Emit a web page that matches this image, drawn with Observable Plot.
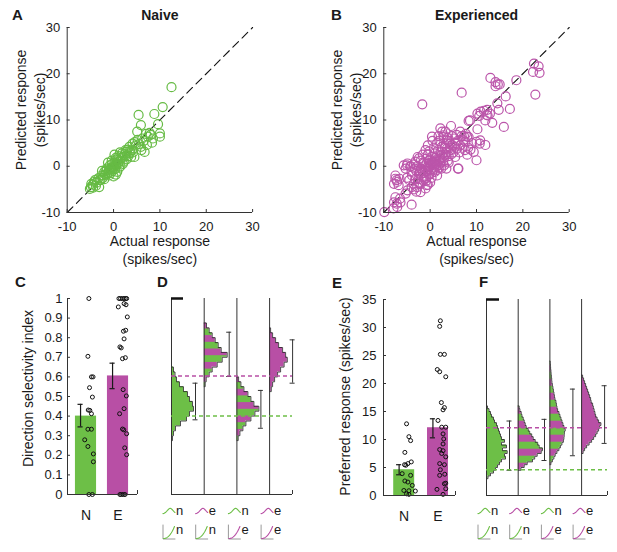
<!DOCTYPE html>
<html><head><meta charset="utf-8">
<script src="https://cdn.jsdelivr.net/npm/d3@7"></script>
<script src="https://cdn.jsdelivr.net/npm/@observablehq/plot@0.6"></script>
<style>
html,body{margin:0;padding:0;background:#fff;}
#root{position:relative;width:617px;height:552px;overflow:hidden;background:#fff;font-family:'Liberation Sans',Arial,Helvetica,sans-serif;color:#1a1a1a;}
.lbl{position:absolute;font-weight:bold;font-size:15px;line-height:18px;}
</style></head><body>
<svg width="0" height="0" style="position:absolute">
<defs>
<pattern id="stripesD" patternUnits="userSpaceOnUse" x="0" y="11.5" width="40" height="13.4">
<rect x="0" y="0" width="40" height="6.7" fill="#b84fa5"/><rect x="0" y="6.7" width="40" height="6.7" fill="#6dbf47"/></pattern>
<pattern id="stripesF" patternUnits="userSpaceOnUse" x="0" y="10.7" width="40" height="14">
<rect x="0" y="0" width="40" height="7" fill="#b84fa5"/><rect x="0" y="7" width="40" height="7" fill="#6dbf47"/></pattern>
</defs></svg>
<div id="root"></div>
<script>
// ---------- colours ----------
const GREEN = "#6dbf47", PINK = "#b84fa5", INK = "#1a1a1a", AXIS = "#333";
const FONT = "'Liberation Sans', Arial, Helvetica, sans-serif";

// ---------- A / B : predicted vs actual ----------
const axisRange = [-10, 30];
const axisTicks = [-10, 0, 10, 20, 30];
const naive = [
[12.5,17.1],[10.6,12.8],[8.8,11.3],[5.4,11.1],[9.6,9.1],[5.9,8.9],[10.0,7.1],[10.0,6.4],[7.8,7.2],[7.4,6.4],
[8.3,5.1],[7.2,4.6],[6.7,3.1],[4.5,2.0],[5.2,5.7],[5.1,7.5],[5.9,4.2],[6.5,5.5],[4.1,4.9],[3.4,4.2],
[2.7,3.1],[8.0,6.8],[7.0,7.0],[6.2,6.0],[4.8,4.5],[4.0,3.5],[3.5,2.8],[3.0,3.6],[2.5,2.2],[2.0,2.0],
[1.8,2.8],[1.5,1.2],[0.9,1.3],[1.0,0.5],[0.5,1.8],[0.2,0.8],[0.0,0.0],[-0.3,0.5],[-0.5,-0.3],[-0.8,0.2],
[-1.0,-0.8],[-1.3,-1.5],[-0.2,-1.0],[0.3,-0.6],[0.6,0.2],[-1.5,-0.5],[-1.8,-1.8],[-2.0,-1.2],[-2.3,-2.5],[-2.6,-2.0],
[-3.0,-3.0],[-3.1,-4.5],[-3.3,-2.6],[-3.6,-3.5],[-4.0,-3.0],[-4.2,-3.4],[-4.5,-4.0],[-4.9,-4.5],[-5.1,-4.9],[-4.4,-4.6],
[-2.8,-3.0],[-2.0,-2.8],[-1.0,-2.0],[0.5,-1.8],[1.2,-0.3],[1.5,0.0],[2.2,1.0],[2.8,1.5],[3.2,2.2],[2.0,0.5],
[-0.6,-1.5],[0.8,-1.2],[1.0,2.2],[-1.2,0.8],[0.2,2.5],[1.4,3.0],[-0.4,1.2],[-2.5,-1.0],[0.0,-2.2],[1.7,1.8],
[2.4,2.6],[3.8,2.0],[4.2,3.0],[-0.7,-0.6],[0.4,0.3],[-0.1,-0.4],[1.1,1.0],[-1.6,-1.0],[-3.8,-4.2],[-4.8,-3.8],
[-2.2,-2.0],[-0.9,-1.2],[0.7,1.5],[2.6,3.5],[3.6,3.2],[5.5,4.8],[4.6,5.2],[6.0,3.5],[8.5,6.0]
];
const experienced = [
[-9.9,-9.9],[-7.9,-9.1],[-7.2,-8.1],[-6.5,-7.0],[-4.0,-8.3],[-7.5,-6.7],[-7.8,-7.8],[-7.1,-8.8],[-6.4,-7.8],[-5.3,-5.9],[-4.9,-5.2],
[-7.5,-2.7],[-7.1,-3.4],[-7.8,-3.8],[-6.8,-4.1],[-7.5,-2.0],[-6.6,-2.7],[-7.2,-3.0],
[-5.7,0.2],[-4.9,0.6],[-4.2,0.0],[-3.5,0.4],[-2.8,0.0],[-5.3,-0.5],[-5.0,0.2],[-4.3,-0.1],[-2.4,1.7],[-2.7,2.0],
[-3.9,-2.0],[-3.2,-2.7],[-2.4,-1.6],[-1.7,-0.9],[-3.5,-3.8],[-2.8,-4.5],[-2.1,-3.8],[-1.4,-3.0],[-1.0,-4.8],[-2.1,-5.6],[-0.7,-4.1],
[-1.7,13.4],[0.4,6.4],[6.8,15.9],
[13.0,19.1],[14.1,18.2],[14.6,17.7],[14.1,17.3],[15.0,17.7],[18.6,18.6],[22.4,22.2],[23.4,21.6],[23.6,20.2],[22.2,20.4],[22.7,15.5],
[17.2,12.4],[14.8,12.2],[14.5,13.6],[15.9,8.5],[13.4,9.4],[16.3,15.1],
[10.9,11.8],[11.6,12.0],[12.3,12.2],[10.2,11.4],[10.6,10.9],[12.2,11.1],[12.9,11.4],[11.9,9.9],[12.4,11.0],[8.6,9.9],
[8.3,9.8],[10.2,8.0],[10.0,5.3],[10.7,4.9],[11.9,4.6],[10.0,1.3],[8.2,4.0],[9.4,3.1],[8.3,6.3],[7.2,5.6],[10.8,5.6],
[4.5,8.7],[2.2,8.2],[2.6,7.5],[2.9,6.7],[3.7,6.2],[2.9,6.3],[3.6,5.6],[4.3,4.9],
[6.5,7.5],[7.3,6.5],[8.0,6.4],[7.6,5.3],[6.0,-0.5],[5.8,3.8],[5.4,2.0],[6.1,-0.5],
[-1.0,-1.0],[-0.5,-0.5],[0,0],[0.5,0.3],[1.0,1.0],[-0.8,0.5],[0.2,-0.8],[-0.3,1.2],[0.8,-0.3],[1.5,0.5],
[-1.5,-1.5],[-0.2,-1.8],[1.2,1.8],[0.5,2.0],[-1.2,0.0],[2.0,1.5],[1.8,0.2],[2.5,2.5],[3.0,1.8],[2.2,3.0],
[3.5,3.0],[4.0,2.2],[4.5,3.5],[3.2,4.0],[2.8,1.0],[0.0,1.5],[-0.5,2.5],[1.0,2.8],[1.7,3.5],[2.5,4.2],
[4.8,4.5],[5.5,5.0],[5.0,3.0],[6.5,4.5],[6.0,5.5],[7.0,4.0],[4.0,5.5],[5.2,6.0],[3.0,5.0],[0.3,-2.5],
[-0.8,-2.5],[1.0,-1.2],[1.5,-0.8],[2.0,-0.3],[-1.8,-2.2],[-2.5,-2.8],[-3.0,-1.0],[-2.0,-0.5],[-1.5,0.8],[-0.5,0.0],
[0.5,1.0],[1.3,0.0],[2.3,0.8],[3.3,2.5],[3.8,1.2],[4.2,4.0],[0.8,4.0],[1.5,5.0],[2.0,5.5],[-1.0,3.5],
[-0.2,3.2],[0.0,-3.5],[-0.5,-4.0],[1.5,-2.0],[-3.5,-5.0],[-4.0,-4.5],[-3.0,-5.5],[-4.5,-3.0],[-4.0,-1.2],[-3.3,-0.5],
[-5.0,-2.5],[-2.5,-3.5],[-1.2,-2.8],[0.7,0.7],[-0.3,-0.2],[0.2,0.5],[1.1,0.4],[-0.6,-1.1],[2.7,2.0],[3.6,3.8],
[4.6,2.6],[5.4,4.2],[6.3,3.0],[6.8,6.5],[7.5,3.5],[8.0,2.5],[8.7,3.6],[9.0,5.0],[7.7,7.0],[5.7,6.8],
[4.7,6.5],[3.3,7.5],[1.8,6.5],[0.5,5.5],[-0.5,4.5],[2.0,2.2],[1.2,1.3],[-0.1,0.7],[0.9,-0.7],[2.4,-0.5],
[3.0,0.2],[4.0,0.8],[3.5,-0.5],[-2.0,1.2],[-1.6,2.5],[-3.2,1.0],[-2.2,-1.2],[-0.9,-3.2],[0.4,-1.4]
];

// ---------- C : direction selectivity ----------
const groups = ["N", "E"];
const dsiMean = [0.40, 0.605];
const dsiSemLo = [0.345, 0.54];
const dsiSemHi = [0.46, 0.67];
const dsiTicks = [0, 0.1, 0.2, 0.3, 0.4, 0.5, 0.6, 0.7, 0.8, 0.9, 1];
const dsiNaive = [1.0,0.705,0.60,0.60,0.545,0.497,0.431,0.429,0.412,0.333,0.333,0.279,0.245,0.207,0.167,0,0];
const dsiNaiveJit = [0.09,0.06,0.17,0.22,0.11,0.20,0.07,0.12,0.17,0.06,0.17,-0.04,0.06,0.23,0.23,0.09,0.20];
const dsiExp = [1,1,1,1,1,1,0.974,0.957,0.968,0.906,0.833,0.838,0.794,0.753,0.748,0.693,0.698,0.535,0.503,0.438,0.412,0.334,0.330,0.31,0.238,0.203,0,0,0,0];
const dsiExpJit = [0.03,0.08,0.14,0.19,0.24,0.27,0.19,0.01,0.25,0.29,0.17,0.24,0.19,0.06,0.10,0.14,0.23,0.16,0.26,0.19,0.05,0.14,0.18,0.27,0.21,0.27,0.06,0.11,0.17,0.22];

// ---------- D : DSI bootstrap histograms (tuning / gain combos) ----------
const tuningCombo = ["n", "e", "n", "e"];
const gainCombo = ["n", "n", "e", "e"];
const dBinWidth = 0.025;
const dBinStart = [0.275, 0.55, 0.275, 0.525];
const dCounts = [
  [1,2,4,9,15,18,22,21,18,16,12,8,5,3.5,2],
  [1,2,5,8,13,18,23,17,14,11,8,5,2.3],
  [1.3,3,6,9,14,18,22,17,14,11,7,4,1.7],
  [1.7,3,5,8,11,14.5,17.7,16,13,9,6,3,1]
];
const dErrLo = [0.381, 0.602, 0.338, 0.568];
const dErrHi = [0.568, 0.828, 0.531, 0.789];

// ---------- E : preferred response ----------
const respMean = [4.6, 12.1];
const respSemLo = [3.7, 10.3];
const respSemHi = [5.5, 13.7];
const respTicks = [0, 5, 10, 15, 20, 25, 30, 35];
const respNaive = [12.8,10.5,9.8,7.7,6.0,5.7,5.4,5.5,3.9,3.6,2.6,2.4,1.8,0.9,0.85,0.8,0.3,0.2];
const respNaiveJit = [0.07,0.14,0.19,0.02,0.21,0.11,0.05,0.01,-0.06,0.19,0.02,0.11,0.24,-0.01,0.14,0.33,0.07,0.14];
const respExp = [31.2,30.2,25.2,25.2,22.5,22.1,21.2,16.6,15.7,15.3,13.4,12.2,12.2,11.0,10.1,9.2,8.2,8.0,7.5,6.9,5.7,5.5,4.6,3.8,3.6,2.2,2.1,1.1,1.2,0.2];
const respExpJit = [0.07,0.05,0.07,0.19,-0.02,0.05,0.23,0.10,0.19,0.15,0.00,0.11,0.23,0.15,0.17,0.15,0.05,0.15,0.11,0.23,0.05,0.19,0.07,0.20,0.05,0.23,0.19,-0.03,0.23,0.15];

// ---------- F : response bootstrap histograms ----------
const fBinWidth = 0.5;
const fBinStart = [3.0, 4.5, 5.5, 7.5];
const fCounts = [
  [1.5,4,7,9,11,13,15,19,18,20.7,16,20,15,18,15,14,13,12,11,10,8,7,5,4,2.5,1],
  [2.7,6,9,14.3,16.5,19,23,24.3,21,19.5,17,15,13.5,11.5,10,8,7,6,5,3.7,3,1.7,1],
  [1,2.5,4,5.3,7,9,10.5,12,13.5,14,14.3,14.5,15.3,14,13,12,11,10,9,7.7,7,6.5,6,5,4.5,4,3.5,3,2.5,2,1.8,1.5,1.2,1,0.7,0.5,0.3],
  [1.5,3,5,7.5,10,12,14,15.5,17,18,19.3,17,15.5,14,13.3,12.5,11.7,11,9.5,9,8,7,6,5,4,3,2,1]
];
const fErrLo = [4.5, 6.25, 7.1, 9.3];
const fErrHi = [13.3, 13.6, 19.0, 19.6];

// ================= drawing =================
const root = document.getElementById("root");
function place(node, left, top) {
  node.style.position = "absolute"; node.style.left = left + "px"; node.style.top = top + "px";
  root.appendChild(node);
}
function panelLetter(t, left, cy) {
  const d = document.createElement("div"); d.className = "lbl"; d.textContent = t;
  d.style.left = left + "px"; d.style.top = (cy - 9) + "px"; root.appendChild(d);
}
const style = {fontFamily: FONT, fontSize: "13px", color: INK, background: "transparent", overflow: "visible"};
const mid = {textAnchor: "middle", lineAnchor: "middle"};

function scatter(data, color, title, W, ML) {
  const innerW = 185.4, innerH = 185;
  return Plot.plot({
    width: W, height: 265, marginLeft: ML, marginRight: W - ML - innerW, marginTop: 27, marginBottom: 53, style,
    x: {domain: axisRange, ticks: axisTicks, tickFormat: d => String(d), tickSize: 0, tickPadding: 9, label: null},
    y: {domain: axisRange, ticks: axisTicks, tickFormat: d => String(d), tickSize: 0, tickPadding: 7, label: null},
    marks: [
      Plot.line(axisRange, {x: d => d, y: d => d, stroke: "#111", strokeWidth: 1.1, strokeDasharray: "8,5"}),
      Plot.dot(data, {x: d => d[0], y: d => d[1], r: 4.5, stroke: color, strokeWidth: 1.2, fill: "none"}),
      Plot.ruleX([axisRange[0]], {stroke: AXIS}),
      Plot.ruleY([axisRange[0]], {stroke: AXIS}),
      Plot.ruleY(axisTicks, {stroke: AXIS, insetRight: innerW - 3}),
      Plot.ruleX(axisTicks, {stroke: AXIS, insetTop: innerH - 3}),
      Plot.text([title], {...mid, text: d => d, frameAnchor: "top", dy: -12, fontWeight: "bold", fontSize: 14}),
      Plot.text(["Predicted response\n(spikes/sec)"], {...mid, text: d => d, frameAnchor: "left", rotate: -90, dx: -38, dy: -10, fontSize: 14, lineHeight: 1.36}),
      Plot.text(["Actual response\n(spikes/sec)"], {...mid, text: d => d, frameAnchor: "bottom", dy: 37, fontSize: 14, lineHeight: 1.29})
    ]
  });
}

function barPanel(o) {
  const innerW = o.W - o.ML - o.MR, innerH = 282 - o.MT - o.MB;
  const caps = groups.flatMap((g, i) => [{i, v: o.lo[i]}, {i, v: o.hi[i]}]);
  const dots = [...o.ptsN.map((v, k) => ({x: 1 + o.jitN[k], y: v})), ...o.ptsE.map((v, k) => ({x: 2 + o.jitE[k], y: v}))];
  return Plot.plot({
    width: o.W, height: 282, marginLeft: o.ML, marginRight: o.MR, marginTop: o.MT, marginBottom: o.MB, style,
    color: {type: "identity"},
    x: {domain: o.xDomain, axis: null},
    y: {domain: o.yDomain, ticks: o.yTicks, tickFormat: d => String(d), tickSize: 0, tickPadding: o.tickPad, label: null},
    marks: [
      Plot.rectY(groups, {x1: (d, i) => i + 1 - o.half, x2: (d, i) => i + 1 + o.half, y1: 0, y2: (d, i) => o.means[i], fill: (d, i) => [GREEN, PINK][i]}),
      Plot.ruleX(groups, {x: (d, i) => i + 1 + o.errOff, y1: (d, i) => o.lo[i], y2: (d, i) => o.hi[i], stroke: INK, strokeWidth: 1.2}),
      Plot.ruleY(caps, {y: "v", x1: d => d.i + 1 + o.errOff - o.cap, x2: d => d.i + 1 + o.errOff + o.cap, stroke: INK, strokeWidth: 1.2}),
      Plot.dot(dots, {x: "x", y: "y", r: 2, stroke: "#111", strokeWidth: 1, fill: "none"}),
      Plot.ruleX([o.xDomain[0]], {stroke: AXIS}),
      Plot.ruleY([o.yDomain[0]], {stroke: AXIS}),
      Plot.ruleX([o.xDomain[1]], {stroke: AXIS, insetTop: innerH - 4}),
      Plot.ruleY(o.yTicks, {stroke: AXIS, insetRight: innerW - 3}),
      Plot.text(groups, {...mid, x: (d, i) => i + 1, frameAnchor: "bottom", dy: 21, fontSize: 14, text: d => d}),
      Plot.text([o.yLabel], {...mid, text: d => d, frameAnchor: "left", rotate: -90, dx: o.labelDx, dy: o.labelDy, fontSize: 14})
    ]
  });
}

function histPanel(o) {
  const innerW = 121, innerH = 196;
  const fills = tuningCombo.map((t, h) => t !== gainCombo[h] ? `url(#${o.pattern})` : (t === "n" ? GREEN : PINK));
  const outlines = o.counts.map((cs, h) => {
    const off = h * o.gap, pts = [{x: off, y: o.starts[h]}];
    cs.forEach((c, k) => { const lo = o.starts[h] + k * o.binW; pts.push({x: off + c, y: lo}, {x: off + c, y: lo + o.binW}); });
    pts.push({x: off, y: o.starts[h] + cs.length * o.binW});
    return pts;
  });
  const errX = o.counts.map((cs, h) => h * o.gap + Math.max(d3.max(cs) + 2, 23));
  const caps = o.counts.flatMap((cs, h) => [{h, v: o.errLo[h]}, {h, v: o.errHi[h]}]);
  return Plot.plot({
    width: o.W, height: o.MT + innerH + o.MB, marginLeft: o.ML, marginRight: o.W - o.ML - innerW, marginTop: o.MT, marginBottom: o.MB, style,
    x: {domain: [0, innerW], axis: null},
    y: {domain: o.yDomain, axis: null},
    marks: [
      ...outlines.map((pts, h) => Plot.areaX(pts, {x1: h * o.gap, x2: "x", y: "y", fill: fills[h], curve: "linear"})),
      ...outlines.map(pts => Plot.line(pts, {x: "x", y: "y", stroke: "#222", strokeWidth: 0.8})),
      Plot.ruleX(o.counts, {x: (d, h) => h * o.gap, y1: o.yDomain[0], y2: o.yDomain[1], stroke: AXIS}),
      Plot.ruleY([o.yDomain[0]], {stroke: AXIS}),
      Plot.ruleX([innerW], {stroke: AXIS, insetTop: innerH - 4}),
      Plot.ruleY([o.yDomain[1]], {x1: 0, x2: o.barPx, stroke: "#111", strokeWidth: 2.5}),
      Plot.ruleX(o.counts, {x: (d, h) => errX[h], y1: (d, h) => o.errLo[h], y2: (d, h) => o.errHi[h], stroke: "#333", strokeWidth: 1}),
      Plot.ruleY(caps, {y: "v", x1: d => errX[d.h] - 2.5, x2: d => errX[d.h] + 2.5, stroke: "#333", strokeWidth: 1}),
      Plot.ruleY([o.means[1]], {stroke: PINK, strokeWidth: 1.5, strokeDasharray: "4,3"}),
      Plot.ruleY([o.means[0]], {stroke: GREEN, strokeWidth: 1.5, strokeDasharray: "4,3"})
    ]
  });
}

function iconPanel(gap, W, ML) {
  const slots = [0, 1, 2, 3];
  const t = d3.range(0, 1.0001, 0.1);
  const bump = slots.flatMap(s => t.map(u => ({s, x: s * gap - 8.5 + 12 * u, y: 13.3 - 5.5 * Math.exp(-(((u - 0.6) / 0.33) ** 2))})));
  const axesL = slots.flatMap(s => [{s, x: s * gap - 8.5, y: 24.5}, {s, x: s * gap - 8.5, y: 38.5}, {s, x: s * gap + 3.5, y: 38.5}]);
  const gainC = slots.flatMap(s => t.map(u => ({s, x: s * gap - 8 + 11 * u, y: 38 - 12 * u ** 2.2})));
  const col = c => c === "n" ? GREEN : PINK;
  return Plot.plot({
    width: W, height: 45, marginLeft: ML, marginRight: W - ML - 121, marginTop: 0, marginBottom: 0, style,
    color: {type: "identity"},
    x: {domain: [0, 121], axis: null},
    y: {domain: [45, 0], axis: null},
    marks: [
      Plot.line(bump, {x: "x", y: "y", z: "s", stroke: d => col(tuningCombo[d.s]), strokeWidth: 1.1}),
      Plot.line(axesL, {x: "x", y: "y", z: "s", stroke: "#999", strokeWidth: 1}),
      Plot.line(gainC, {x: "x", y: "y", z: "s", stroke: d => col(gainCombo[d.s]), strokeWidth: 1.1}),
      Plot.text(slots, {x: s => s * gap + 4.5, y: 10, text: s => tuningCombo[s], textAnchor: "start", fontSize: 13}),
      Plot.text(slots, {x: s => s * gap + 4.5, y: 29.5, text: s => gainCombo[s], textAnchor: "start", fontSize: 13})
    ]
  });
}

// A
place(scatter(naive, "#66bb44", "Naive", 300, 66.7), 0, 0);
// B
place(scatter(experienced, "#bb55aa", "Experienced", 317, 83.3), 300, 0);
// C
place(barPanel({W: 150, ML: 67, MR: 13, MT: 28, MB: 58, xDomain: [0.422, 2.609], half: 0.33, errOff: -0.17, cap: 0.08,
  yDomain: [0, 1], yTicks: dsiTicks, tickPad: 5, yLabel: "Direction selectivity index", labelDx: -39, labelDy: -8,
  means: dsiMean, lo: dsiSemLo, hi: dsiSemHi, ptsN: dsiNaive, jitN: dsiNaiveJit, ptsE: dsiExp, jitE: dsiExpJit}), 0, 270);
// D
place(histPanel({W: 140, ML: 11, MT: 28, MB: 6, yDomain: [0, 1], binW: dBinWidth, starts: dBinStart, counts: dCounts,
  errLo: dErrLo, errHi: dErrHi, means: dsiMean, gap: 32.7, pattern: "stripesD", barPx: 12}), 160, 270);
place(iconPanel(32.7, 140, 11), 160, 500);
// E
place(barPanel({W: 165, ML: 83, MR: 10, MT: 29, MB: 57, xDomain: [0.388, 2.518], half: 0.31, errOff: -0.15, cap: 0.075,
  yDomain: [0, 35], yTicks: respTicks, tickPad: 7, yLabel: "Preferred response (spikes/sec)", labelDx: -38, labelDy: -1,
  means: respMean, lo: respSemLo, hi: respSemHi, ptsN: respNaive, jitN: respNaiveJit, ptsE: respExp, jitE: respExpJit}), 300, 270);
// F
place(histPanel({W: 142, ML: 11, MT: 29, MB: 6, yDomain: [0, 35], binW: fBinWidth, starts: fBinStart, counts: fCounts,
  errLo: fErrLo, errHi: fErrHi, means: respMean, gap: 31.7, pattern: "stripesF", barPx: 13}), 475, 270);
place(iconPanel(31.7, 142, 11), 475, 500);

panelLetter("A", 12, 15);
panelLetter("B", 331, 15);
panelLetter("C", 15, 282);
panelLetter("D", 157, 282);
panelLetter("E", 332, 283);
panelLetter("F", 479, 282);
</script></body></html>
